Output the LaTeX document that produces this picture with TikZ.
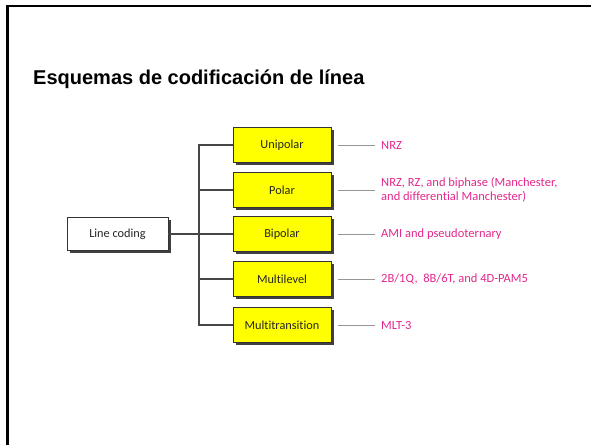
\documentclass[tikz,border=0pt]{standalone}
\usepackage{fontspec}
\setmainfont{Liberation Sans}
\newfontfamily\diagfont[Ligatures={NoCommon}]{Carlito}
\usetikzlibrary{shadows}
\definecolor{boxyellow}{RGB}{255,255,0}
\definecolor{labelmag}{RGB}{226,40,140}
\definecolor{trunkgray}{RGB}{70,70,70}
\definecolor{leafgray}{RGB}{150,150,150}
\tikzset{
  catbox/.style={draw=black!80, line width=0.8pt, fill=boxyellow, minimum width=98pt, minimum height=35pt, inner sep=0pt,
    font=\diagfont\fontsize{12.3}{14}\selectfont, text=black!85,
    drop shadow={shadow xshift=2.5pt, shadow yshift=-2.5pt, fill=black!75, opacity=1}},
  rootbox/.style={catbox, fill=white, minimum width=101pt, minimum height=33pt},
  leaf/.style={anchor=west, inner sep=0pt, align=left, text=labelmag, font=\diagfont\fontsize{12.5}{14}\selectfont},
  trunk/.style={draw=trunkgray, line width=1.4pt},
  twig/.style={draw=leafgray, line width=1pt},
  frameline/.style={draw=black, line width=2.5pt}
}
\begin{document}
\begin{tikzpicture}[x=1pt, y=-1pt]
\useasboundingbox (0,0) rectangle (591,445);
\draw[frameline] (7.5,445) -- (7.5,6) -- (591,6);
\node[anchor=base west, inner sep=0pt, font=\bfseries\fontsize{20}{24}\selectfont] (title) at (33,84) {Esquemas de codificación de línea};
\node[rootbox] (root) at (117.5,234) {Line coding};
\node[catbox] (uni) at (282,145) {Unipolar};
\node[catbox] (pol) at (282,190) {Polar};
\node[catbox] (bip) at (282,234) {Bipolar};
\node[catbox] (mul) at (282,279) {Multilevel};
\node[catbox] (mtr) at (282,325) {Multitransition};
\coordinate (tt) at (199,145);
\coordinate (tb) at (199,325);
\coordinate (tm) at (199,234);
\draw[trunk] (uni.west) -- (tt) -- (tb) -- (mtr.west);
\draw[trunk] (root.east) -- (tm);
\draw[trunk] (pol.west) -- (pol.west -| tt);
\draw[trunk] (bip.west) -- (tm);
\draw[trunk] (mul.west) -- (mul.west -| tt);
\node[leaf] (l1) at (381,145) {NRZ};
\node[leaf] (l2) at (381,190) {NRZ, RZ, and biphase (Manchester,\\and differential Manchester)};
\node[leaf] (l3) at (381,234) {AMI and pseudoternary};
\node[leaf] (l4) at (381,279) {2B/1Q,\ \ 8B/6T, and 4D-PAM5};
\node[leaf] (l5) at (381,325) {MLT-3};
\foreach \b/\l in {uni/l1,pol/l2,bip/l3,mul/l4,mtr/l5}
  \draw[twig] ([xshift=7pt]\b.east) -- ([xshift=-6pt]\l.west);
\end{tikzpicture}
\end{document}
